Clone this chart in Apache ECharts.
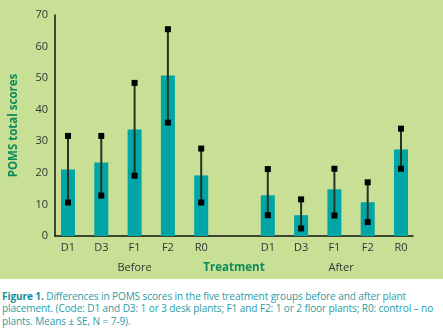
<!DOCTYPE html>
<html><head><meta charset="utf-8">
<script src="https://cdn.jsdelivr.net/npm/echarts@6/dist/echarts.min.js"></script>
<style>
html,body{margin:0;padding:0;background:#fff;width:443px;height:332px;overflow:hidden}
#chart{width:443px;height:279px;background:#c8e096}
#cap{font-family:"Open Sans",sans-serif;font-size:10.05px;line-height:12.3px;color:#2a9ca4;padding:11px 0 0 2px;white-space:nowrap;letter-spacing:-0.1px}
#cap b{color:#12909a}
</style></head><body>
<div id="chart"></div>
<div id="cap"><b>Figure 1.</b> Differences in POMS scores in the five treatment groups before and after plant<br>placement. (Code: D1 and D3: 1 or 3 desk plants; F1 and F2: 1 or 2 floor plants; R0: control – no<br>plants. Means ± SE, N = 7-9).</div>
<script>
const groups = ['D1','D3','F1','F2','R0'];
const periods = ['Before','After'];
const beforeMean = [21.1, 23.3, 33.7, 50.8, 19.2];
const beforeLow  = [10.6, 12.8, 19.1, 35.9, 10.6];
const beforeHigh = [31.7, 31.7, 48.5, 65.5, 27.7];
const afterMean  = [12.9, 6.6, 14.8, 10.7, 27.4];
const afterLow   = [6.6, 2.4, 6.5, 4.4, 21.3];
const afterHigh  = [21.2, 11.6, 21.3, 17.0, 34.0];
const yTicks = [0,10,20,30,40,50,60,70];

// slot positions: before 0..4, gap at 5, after 6..10
const pos = [];
const names = {};
const barData = [];
const errData = [];
groups.forEach((g,i)=>{ pos.push(i); names[i]=g; barData.push([i,beforeMean[i]]); errData.push([i,beforeLow[i],beforeHigh[i]]); });
groups.forEach((g,i)=>{ const p=i+6; pos.push(p); names[p]=g; barData.push([p,afterMean[i]]); errData.push([p,afterLow[i],afterHigh[i]]); });

const font = '"Open Sans", sans-serif';
const chart = echarts.init(document.getElementById('chart'));
chart.setOption({
  animation:false,
  backgroundColor:'transparent',
  grid:{left:55,right:30,top:15,bottom:42},
  xAxis:[{
    type:'value',min:-0.39,max:10.36,
    axisLine:{show:true,onZero:false,lineStyle:{color:'#111',width:1.5}},
    axisTick:{show:false},splitLine:{show:false},
    axisLabel:{customValues:pos,formatter:v=>names[Math.round(v)]||'',color:'#333',fontSize:11,fontFamily:font,margin:6},
    name:'Treatment',nameLocation:'middle',nameGap:26,
    nameTextStyle:{color:'#0d8a5c',fontWeight:'bold',fontSize:11.5,fontFamily:font}
  },{
    type:'value',min:-0.39,max:10.36,position:'bottom',offset:20,
    axisLine:{show:false},axisTick:{show:false},splitLine:{show:false},
    axisLabel:{customValues:[2,8.2],formatter:v=>v<5?periods[0]:periods[1],color:'#333',fontSize:11,fontFamily:font,margin:6}
  }],
  yAxis:{
    type:'value',min:0,max:70,interval:10,
    axisLine:{show:true,onZero:false,lineStyle:{color:'#111',width:1.5}},
    axisTick:{show:false},splitLine:{show:false},
    axisLabel:{color:'#333',fontSize:11,fontFamily:font,margin:7},
    name:'POMS total scores',nameLocation:'middle',nameGap:35,
    nameTextStyle:{color:'#0d8a5c',fontWeight:'bold',fontSize:11.5,fontFamily:font}
  },
  series:[{
    type:'bar',data:barData,barWidth:14,itemStyle:{color:'#00a6a6'}
  },{
    type:'custom',data:errData,z:5,
    renderItem:(params,api)=>{
      const x=api.value(0);
      const lo=api.coord([x,api.value(1)]);
      const hi=api.coord([x,api.value(2)]);
      const s=6;
      return {type:'group',children:[
        {type:'line',shape:{x1:lo[0],y1:lo[1],x2:hi[0],y2:hi[1]},style:{stroke:'#243424',lineWidth:2}},
        {type:'rect',shape:{x:lo[0]-s/2,y:lo[1]-s/2,width:s,height:s},style:{fill:'#000'}},
        {type:'rect',shape:{x:hi[0]-s/2,y:hi[1]-s/2,width:s,height:s},style:{fill:'#000'}}
      ]};
    }
  }]
});
</script>
</body></html>
